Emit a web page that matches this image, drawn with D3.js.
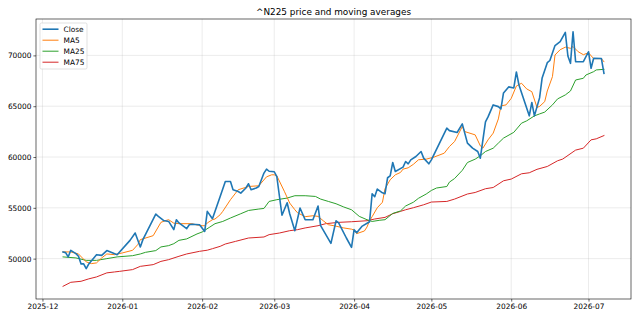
<!DOCTYPE html>
<html>
<head>
<meta charset="utf-8">
<script src="https://cdn.jsdelivr.net/npm/d3@7"></script>
<style>
html,body{margin:0;padding:0;background:#fff;}
svg{display:block;font-family:"DejaVu Sans",sans-serif;}
</style>
</head>
<body>
<svg id="chart" width="640" height="320"></svg>
<script>
const title = "^N225 price and moving averages";
const seriesNames = ["Close", "MA5", "MA25", "MA75"];
const seriesColors = ["#1f77b4", "#ff7f0e", "#2ca02c", "#d62728"];
const yTickValues = [50000, 55000, 60000, 65000, 70000];

const closeDates = ["2025-12-09","2025-12-10","2025-12-11","2025-12-12","2025-12-14","2025-12-15","2025-12-16","2025-12-17","2025-12-18","2025-12-19","2025-12-22","2025-12-24","2025-12-26","2025-12-30","2026-01-04","2026-01-06","2026-01-08","2026-01-09","2026-01-14","2026-01-15","2026-01-17","2026-01-19","2026-01-21","2026-01-22","2026-01-23","2026-01-26","2026-01-27","2026-01-28","2026-01-31","2026-02-02","2026-02-03","2026-02-05","2026-02-08","2026-02-10","2026-02-12","2026-02-13","2026-02-15","2026-02-16","2026-02-18","2026-02-19","2026-02-20","2026-02-22","2026-02-23","2026-02-25","2026-02-26","2026-02-27","2026-03-01","2026-03-02","2026-03-04","2026-03-06","2026-03-07","2026-03-09","2026-03-11","2026-03-13","2026-03-16","2026-03-18","2026-03-19","2026-03-23","2026-03-25","2026-03-26","2026-03-29","2026-03-31","2026-04-01","2026-04-02","2026-04-04","2026-04-07","2026-04-08","2026-04-09","2026-04-10","2026-04-12","2026-04-13","2026-04-14","2026-04-15","2026-04-16","2026-04-17","2026-04-20","2026-04-21","2026-04-22","2026-04-23","2026-04-25","2026-04-27","2026-04-28","2026-04-30","2026-05-01","2026-05-07","2026-05-08","2026-05-11","2026-05-13","2026-05-15","2026-05-17","2026-05-19","2026-05-20","2026-05-22","2026-05-23","2026-05-25","2026-05-27","2026-05-28","2026-05-29","2026-05-31","2026-06-02","2026-06-03","2026-06-04","2026-06-08","2026-06-09","2026-06-10","2026-06-12","2026-06-13","2026-06-15","2026-06-16","2026-06-18","2026-06-20","2026-06-22","2026-06-23","2026-06-24","2026-06-25","2026-06-26","2026-06-29","2026-07-01","2026-07-02","2026-07-03","2026-07-06","2026-07-07"];
const closeValues = [50660,50590,50170,50820,50490,50230,49480,49480,49020,49480,50390,50320,50790,50390,51800,52520,51150,51870,54390,54160,53760,53660,52850,53830,53510,52950,53340,53390,53340,52680,54650,53930,56120,57590,57590,56780,56610,56450,56950,57370,56780,56950,57100,58420,58810,58600,58550,58060,54270,55500,54420,52750,54980,53830,53830,55180,53240,51500,53730,53510,52030,51110,52850,52550,53170,53630,56390,56090,56850,56480,56390,57960,58150,59460,58580,59010,59560,59330,59720,60050,60540,59890,59330,59720,62840,62600,62410,63260,61370,60870,60540,59890,63460,63950,65130,64960,64730,66310,66900,66800,68370,67090,64050,65370,64050,65820,67780,69280,69500,70970,71350,72270,69940,69220,72330,69380,69380,70360,68730,69720,69700,68240];

const ma5Dates = ["2025-12-09","2025-12-12","2025-12-15","2025-12-18","2025-12-20","2025-12-22","2025-12-24","2025-12-26","2025-12-29","2026-01-01","2026-01-05","2026-01-07","2026-01-08","2026-01-13","2026-01-16","2026-01-18","2026-01-19","2026-01-21","2026-01-23","2026-01-28","2026-01-30","2026-02-01","2026-02-02","2026-02-03","2026-02-05","2026-02-06","2026-02-08","2026-02-09","2026-02-12","2026-02-14","2026-02-15","2026-02-19","2026-02-23","2026-02-26","2026-02-28","2026-03-01","2026-03-02","2026-03-05","2026-03-07","2026-03-09","2026-03-10","2026-03-13","2026-03-16","2026-03-18","2026-03-20","2026-03-22","2026-03-25","2026-03-28","2026-03-31","2026-04-01","2026-04-02","2026-04-05","2026-04-06","2026-04-07","2026-04-08","2026-04-10","2026-04-12","2026-04-13","2026-04-15","2026-04-17","2026-04-19","2026-04-20","2026-04-22","2026-04-24","2026-04-26","2026-04-29","2026-05-02","2026-05-06","2026-05-08","2026-05-10","2026-05-13","2026-05-14","2026-05-18","2026-05-20","2026-05-21","2026-05-23","2026-05-25","2026-05-27","2026-05-28","2026-05-30","2026-06-01","2026-06-03","2026-06-05","2026-06-07","2026-06-09","2026-06-11","2026-06-12","2026-06-14","2026-06-15","2026-06-17","2026-06-18","2026-06-20","2026-06-22","2026-06-24","2026-06-25","2026-06-27","2026-06-29","2026-07-01","2026-07-03","2026-07-06","2026-07-07"];
const ma5Values = [50660,50660,50460,49680,49510,49580,50070,50460,50390,50560,50820,51380,51870,52260,53570,53760,53830,53490,53440,53440,53310,53240,53240,53510,53830,53900,54320,54650,55800,56450,56780,57100,57170,58050,58250,58250,58150,56580,55470,54810,54520,54130,54220,54160,53730,53340,53190,53020,52900,52800,52460,52720,53110,53730,54130,55010,55550,56880,57760,58250,58480,58810,58940,59280,59730,59790,59990,60380,61030,61520,63000,62500,62180,61100,60870,61690,62350,63750,65030,65130,65770,66990,67260,66700,66430,64880,64980,65450,66500,67910,70040,70560,70810,70700,70870,70360,70070,70260,69680,69680,69380];

const ma25Dates = ["2025-12-09","2025-12-14","2025-12-18","2025-12-22","2025-12-26","2025-12-30","2026-01-05","2026-01-08","2026-01-10","2026-01-14","2026-01-16","2026-01-19","2026-01-21","2026-01-23","2026-01-26","2026-01-30","2026-02-01","2026-02-04","2026-02-06","2026-02-09","2026-02-12","2026-02-16","2026-02-19","2026-02-23","2026-02-25","2026-02-27","2026-03-02","2026-03-06","2026-03-09","2026-03-13","2026-03-17","2026-03-19","2026-03-22","2026-03-25","2026-03-28","2026-03-31","2026-04-03","2026-04-06","2026-04-08","2026-04-11","2026-04-13","2026-04-16","2026-04-19","2026-04-21","2026-04-24","2026-04-26","2026-04-29","2026-05-01","2026-05-03","2026-05-07","2026-05-08","2026-05-10","2026-05-13","2026-05-15","2026-05-18","2026-05-20","2026-05-22","2026-05-25","2026-05-27","2026-05-29","2026-06-02","2026-06-05","2026-06-07","2026-06-10","2026-06-12","2026-06-14","2026-06-17","2026-06-19","2026-06-22","2026-06-24","2026-06-26","2026-06-29","2026-06-30","2026-07-03","2026-07-04","2026-07-07"];
const ma25Values = [50170,50070,49830,49830,50000,50170,50290,50460,50620,50790,51150,51280,51470,51800,51940,52430,52620,53110,53440,53660,54000,54420,54740,54880,54940,55630,55800,55960,56190,56190,56120,55860,55630,55400,55080,54810,54160,53830,53660,53780,53830,54450,54690,55180,55550,55940,56360,56710,56950,57100,57530,57880,58690,59460,59790,60120,60540,60870,61370,61860,62430,63330,63560,64050,64240,64420,65130,65720,66110,66500,67580,67750,68070,68400,68570,68630];

const ma75Dates = ["2025-12-09","2025-12-12","2025-12-16","2025-12-19","2025-12-22","2025-12-26","2025-12-29","2025-12-31","2026-01-05","2026-01-08","2026-01-13","2026-01-16","2026-01-19","2026-01-23","2026-01-26","2026-01-31","2026-02-03","2026-02-05","2026-02-08","2026-02-10","2026-02-14","2026-02-19","2026-02-25","2026-02-27","2026-03-03","2026-03-07","2026-03-10","2026-03-13","2026-03-18","2026-03-21","2026-03-26","2026-03-31","2026-04-06","2026-04-09","2026-04-13","2026-04-16","2026-04-19","2026-04-21","2026-04-24","2026-04-28","2026-05-01","2026-05-07","2026-05-10","2026-05-15","2026-05-18","2026-05-22","2026-05-25","2026-05-29","2026-06-01","2026-06-05","2026-06-08","2026-06-11","2026-06-15","2026-06-19","2026-06-21","2026-06-26","2026-06-29","2026-07-02","2026-07-04","2026-07-07"];
const ma75Values = [47280,47670,47770,48010,48200,48600,48690,48750,48920,49240,49410,49730,49900,50230,50460,50720,50830,50980,51210,51440,51700,52030,52130,52360,52520,52750,52850,53020,53240,53440,53570,53630,53730,53900,54060,54420,54650,54810,55010,55300,55570,55630,55860,56360,56510,56880,57000,57660,57830,58350,58450,58790,59070,59630,59800,60680,60870,61690,61790,62110];

const parse = d3.utcParse("%Y-%m-%d");
const series = [
  {name: seriesNames[0], color: seriesColors[0], width: 1.6, pts: closeDates.map((d,i)=>({date: parse(d), value: closeValues[i]}))},
  {name: seriesNames[1], color: seriesColors[1], width: 1.0, pts: ma5Dates.map((d,i)=>({date: parse(d), value: ma5Values[i]}))},
  {name: seriesNames[2], color: seriesColors[2], width: 1.0, pts: ma25Dates.map((d,i)=>({date: parse(d), value: ma25Values[i]}))},
  {name: seriesNames[3], color: seriesColors[3], width: 1.0, pts: ma75Dates.map((d,i)=>({date: parse(d), value: ma75Values[i]}))}
];

const W = 640, H = 320;
const m = {left: 36, right: 9, top: 19, bottom: 21};
const iw = W - m.left - m.right, ih = H - m.top - m.bottom;

const allPts = series.flatMap(s => s.pts);
const [x0, x1] = d3.extent(allPts, d => +d.date);
const xPad = (x1 - x0) * 0.05;
const [y0, y1] = d3.extent(allPts, d => d.value);
const yPad = (y1 - y0) * 0.05;

const x = d3.scaleUtc().domain([new Date(x0 - xPad), new Date(x1 + xPad)]).range([0, iw]);
const y = d3.scaleLinear().domain([y0 - yPad, y1 + yPad]).range([ih, 0]);

const svg = d3.select("#chart");
svg.append("rect").attr("width", W).attr("height", H).attr("fill", "#fff");

svg.append("text")
  .attr("x", m.left + iw / 2).attr("y", 14.5)
  .attr("text-anchor", "middle")
  .attr("font-size", "8.9px").attr("fill", "#000")
  .text(title);

const g = svg.append("g").attr("transform", `translate(${m.left},${m.top})`);

const xTicks = d3.utcMonth.range(d3.utcMonth.ceil(x.domain()[0]), x.domain()[1]);

// grid
g.append("g").selectAll("line").data(xTicks).join("line")
  .attr("x1", d => x(d)).attr("x2", d => x(d)).attr("y1", 0).attr("y2", ih)
  .attr("stroke", "#b0b0b0").attr("stroke-opacity", 0.3).attr("stroke-width", 0.8);
g.append("g").selectAll("line").data(yTickValues).join("line")
  .attr("x1", 0).attr("x2", iw).attr("y1", d => y(d)).attr("y2", d => y(d))
  .attr("stroke", "#b0b0b0").attr("stroke-opacity", 0.3).attr("stroke-width", 0.8);

// axes
const xAxis = d3.axisBottom(x).tickValues(xTicks).tickFormat(d3.utcFormat("%Y-%m")).tickSize(2.6).tickPadding(2);
const yAxis = d3.axisLeft(y).tickValues(yTickValues).tickFormat(d3.format("d")).tickSize(2.6).tickPadding(2);
const gx = g.append("g").attr("transform", `translate(0,${ih})`).call(xAxis);
const gy = g.append("g").call(yAxis);
[gx, gy].forEach(a => {
  a.select(".domain").remove();
  a.selectAll(".tick line").attr("stroke", "#000").attr("stroke-width", 0.6);
  a.selectAll(".tick text").attr("font-size", "7.4px").attr("fill", "#000").attr("font-family", "DejaVu Sans");
});

// lines
const line = d3.line().x(d => x(d.date)).y(d => y(d.value));
const clipId = "plotclip";
g.append("clipPath").attr("id", clipId).append("rect").attr("width", iw).attr("height", ih);
const lg = g.append("g").attr("clip-path", `url(#${clipId})`);
series.slice().reverse().forEach(s => {
  lg.append("path").datum(s.pts)
    .attr("fill", "none").attr("stroke", s.color).attr("stroke-width", s.width)
    .attr("stroke-linejoin", "round").attr("stroke-linecap", "square")
    .attr("d", line);
});

// frame
g.append("rect").attr("width", iw).attr("height", ih)
  .attr("fill", "none").attr("stroke", "#000").attr("stroke-width", 0.6);

// legend
const leg = g.append("g").attr("transform", "translate(4,4)");
leg.append("rect").attr("width", 47).attr("height", 46).attr("rx", 1.5)
  .attr("fill", "#fff").attr("fill-opacity", 0.8).attr("stroke", "#cccccc").attr("stroke-width", 0.6);
series.forEach((s, i) => {
  const yy = 6.2 + i * 11;
  leg.append("line").attr("x1", 2.5).attr("x2", 18.5).attr("y1", yy).attr("y2", yy)
    .attr("stroke", s.color).attr("stroke-width", s.width);
  leg.append("text").attr("x", 23.5).attr("y", yy + 2.7)
    .attr("font-size", "7.4px").attr("fill", "#000").text(s.name);
});
</script>
</body>
</html>
